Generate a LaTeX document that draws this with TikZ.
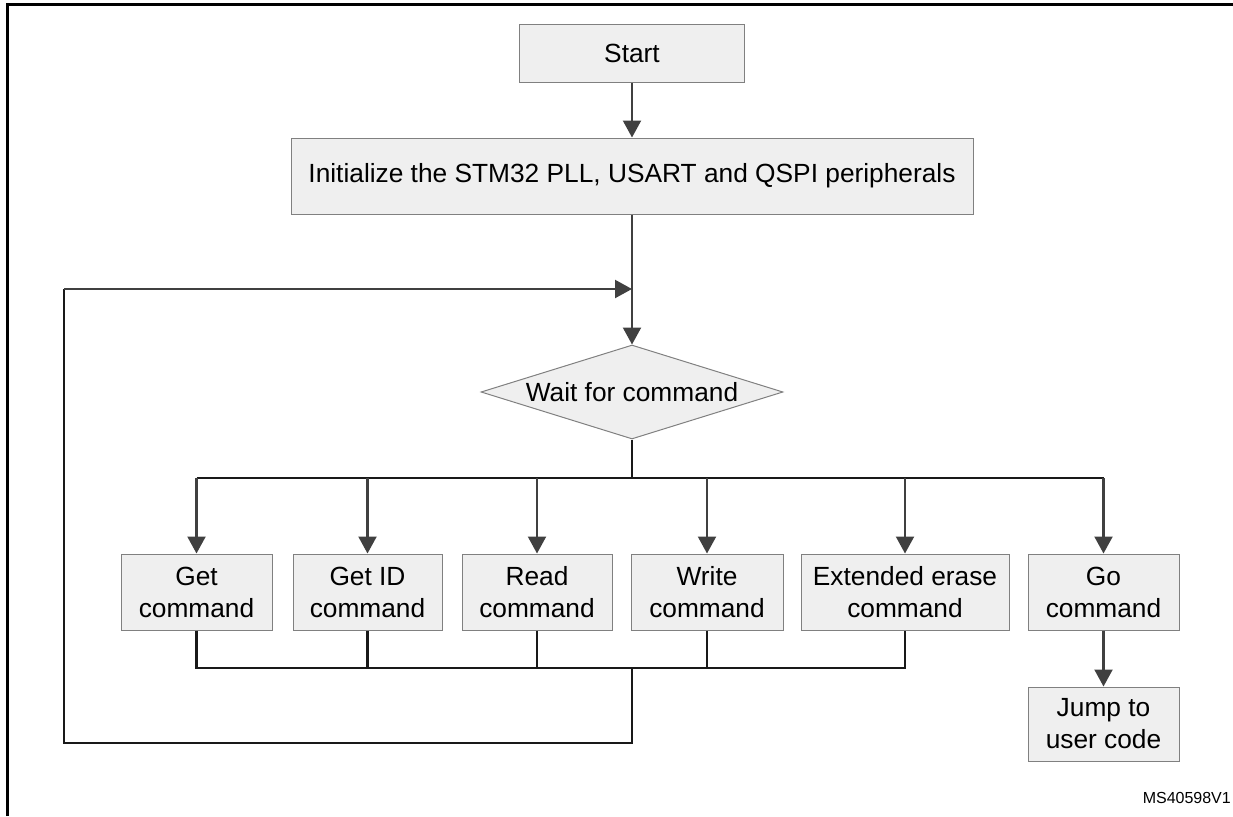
\documentclass[tikz,border=0pt]{standalone}
\usepackage{fontspec}
\setmainfont{Liberation Sans}
\usetikzlibrary{shapes.geometric,arrows.meta}
\definecolor{boxfill}{HTML}{EFEFEF}
\definecolor{boxline}{HTML}{808080}
\definecolor{arr}{HTML}{404040}
\begin{document}
\begin{tikzpicture}[x=1pt,y=-1pt,
  box/.style={draw=boxline,fill=boxfill,line width=1pt,inner sep=0pt,align=center,
    font=\fontsize{26.3}{32}\selectfont,minimum height=76pt},
  flow/.style={draw=arr,line width=2.2pt,-{Triangle[width=18pt,length=17pt]}},
  bus/.style={draw=black!90,line width=2.2pt}]
\useasboundingbox (0,0) rectangle (1233,816);
\draw[line width=3pt] (7,816) -- (7,5) -- (1233,5);

\node[box,minimum width=225pt,minimum height=57pt] (start) at (632,53.5) {Start};
\node[box,minimum width=682pt] (init) at (632,176) {Initialize the STM32 PLL, USART and QSPI peripherals};
\node[diamond,draw=boxline,fill=boxfill,line width=1pt,inner sep=0pt,
  minimum width=302pt,minimum height=94pt] (wait) at (632,392) {};
\node[font=\fontsize{26.3}{32}\selectfont,inner sep=0pt] (waittext) at (wait.center) {Wait for command};

\node[box,minimum width=151pt] (get) at (196.5,592) {Get\\command};
\node[box,minimum width=149pt] (getid) at (367.5,592) {Get ID\\command};
\node[box,minimum width=150pt] (read) at (537,592) {Read\\command};
\node[box,minimum width=152pt] (write) at (707,592) {Write\\command};
\node[box,minimum width=208pt] (ext) at (905,592) {Extended erase\\command};
\node[box,minimum width=151pt] (go) at (1103.5,592) {Go\\command};
\node[box,minimum width=151pt,minimum height=74pt] (jump) at (1103.5,724) {Jump to\\user code};

\node[font=\fontsize{16}{16}\selectfont,anchor=base east,inner sep=0pt] (ms) at (1231,803) {MS40598V1};

\coordinate (loopin) at (632,289);
\coordinate (busc) at (632,478);
\coordinate (bb) at (632,668);
\coordinate (lb) at (632,743);
\coordinate (ll) at (64,743);
\coordinate (lt) at (64,289);

\draw[flow] (start) -- (init);
\draw[flow] (init) -- (wait);
\draw[bus] (wait.south) -- (busc);
\draw[bus] (get.north |- busc) -- (go.north |- busc);
\foreach \n in {get,getid,read,write,ext,go}
  \draw[flow] (\n.north |- busc) -- (\n.north);
\draw[bus] (get.south) -- (get.south |- bb) -- (ext.south |- bb) -- (ext.south);
\foreach \n in {getid,read,write}
  \draw[bus] (\n.south) -- (\n.south |- bb);
\draw[bus] (bb) -- (lb) -- (ll) -- (lt);
\draw[flow] (lt) -- (loopin);
\draw[flow] (go) -- (jump);
\end{tikzpicture}
\end{document}
